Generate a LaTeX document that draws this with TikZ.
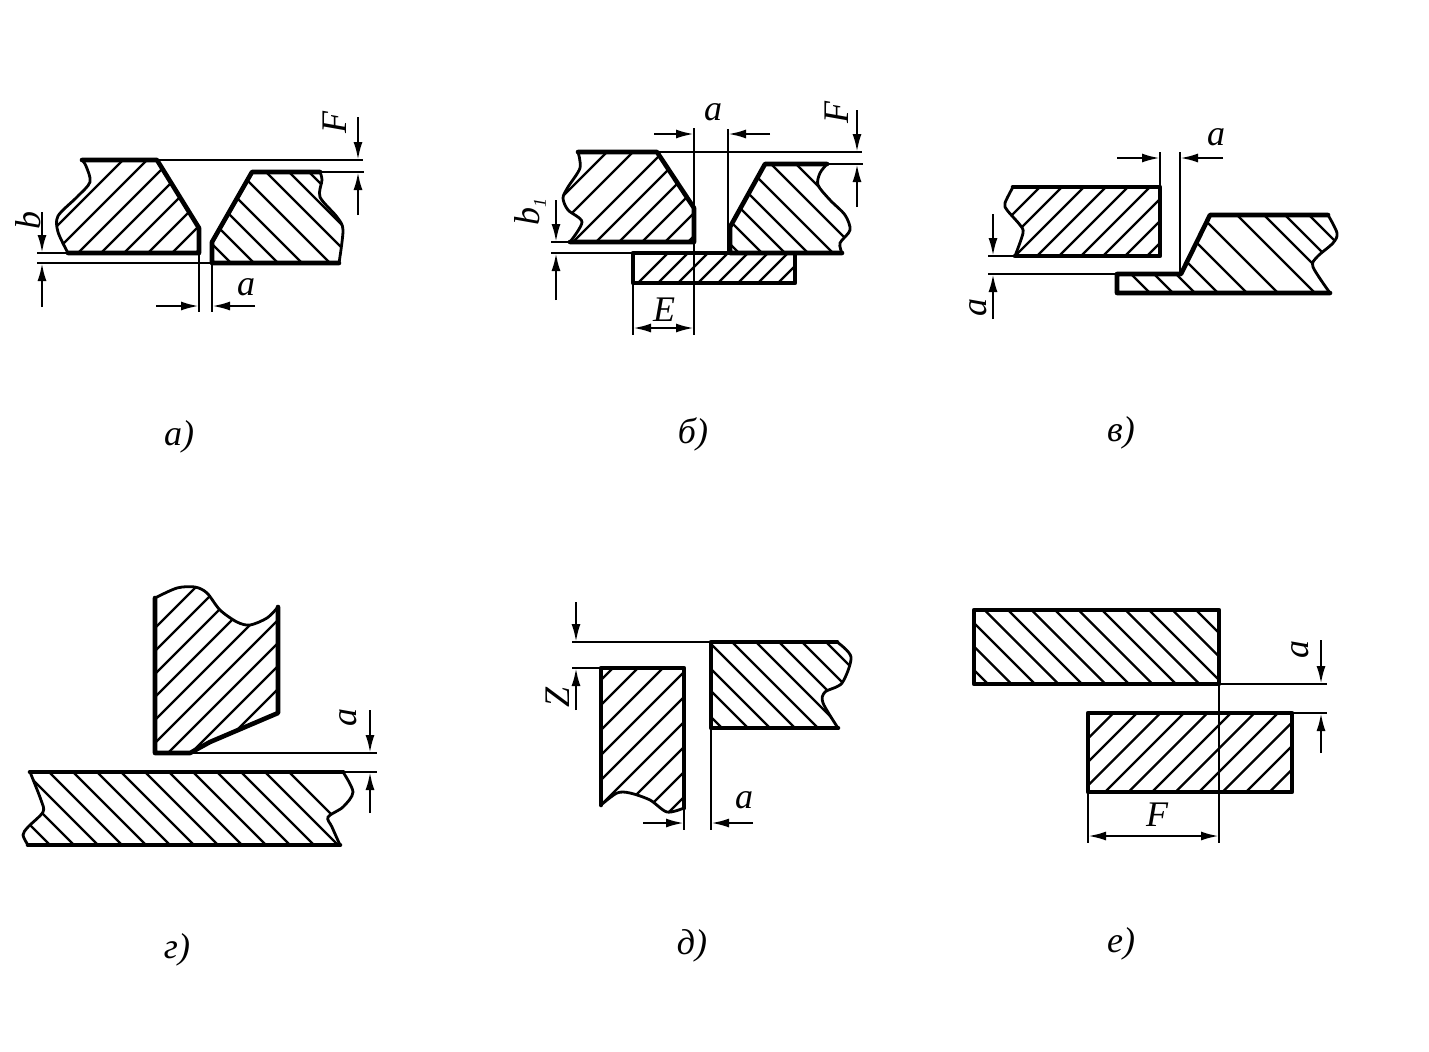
\documentclass[tikz,border=0pt]{standalone}
\usepackage{fontspec}
\setmainfont{Liberation Serif}
\usetikzlibrary{arrows.meta}

\tikzset{
	plateedge/.style={line width=2.3pt,line join=round,line cap=round},
	breakline/.style={line width=1.4pt},
	hatchline/.style={line width=1.2pt},
	extline/.style={line width=1.2pt},
	dimarrow/.style={line width=1.2pt,-{Latex[length=9pt,width=4.5pt]}},
	dimboth/.style={line width=1.2pt,{Latex[length=9pt,width=4.5pt]}-{Latex[length=9pt,width=4.5pt]}},
	letter/.style={font=\fontsize{18}{20}\selectfont\itshape,inner sep=0pt},
	turned/.style={letter,rotate=90}
}

% #1 clip path, #2 +1 rising or -1 falling, #3 base line, #4 where the lines cross it
\newcommand{\hatching}[4]{
	\begin{scope}
		\clip #1;
		\foreach \x in {#4} \draw[hatchline] (\x-300,#3+300*#2)--(\x+300,#3-300*#2);
	\end{scope}
}
% #1 thick edge, #2 points of the break line, then as \hatching
\newcommand{\plate}[5]{
	\hatching{#1 -- plot[smooth] coordinates {#2} -- cycle}{#3}{#4}{#5}
	\draw[plateedge] #1;
	\draw[breakline] plot[smooth] coordinates {#2};
}

\begin{document}
\begin{tikzpicture}[x=0.5pt,y=-0.5pt]
	\useasboundingbox (0,0) rectangle (1429,1051);

	%FIG A
	\plate{(82,160)--(157,160)--(199,228)--(199,253)--(68,253)}{(68,253) (58,232) (58,216) (77,197) (90,182) (86,166) (82,160)}{1}{253}{30,54,78,101,124,148,172,196}
	\plate{(320,172)--(252,172)--(212,242)--(212,263)--(339,263)}{(339,263) (343,230) (337,217) (320,197) (322,180) (320,172)}{-1}{263}{231,254,278,302,330,357,380,400}
	\draw[extline] (157,160)--(363,160);
	\draw[extline] (320,172)--(364,172);
	\draw[extline] (68,253)--(37,253);
	\draw[extline] (212,263)--(37,263);
	\draw[extline] (199,253)--(199,312);
	\draw[extline] (212,263)--(212,312);
	\draw[dimarrow] (156,306)--(199,306);
	\draw[dimarrow] (255,306)--(212,306);
	\draw[dimarrow] (358,117)--(358,160);
	\draw[dimarrow] (358,215)--(358,172);
	\draw[dimarrow] (42,212)--(42,253);
	\draw[dimarrow] (42,307)--(42,263);
	\node[letter] (aA) at (246,287) {a};
	\node[turned] (fA) at (335,122) {F};
	\node[turned] (bA) at (28,220) {b};
	\node[letter] (capA) at (179,437) {а)};

	%FIG B
	\plate{(578,152)--(657,152)--(694,208)--(694,242)--(570,242)}{(570,242) (582,222) (568,210) (563,198) (568,187) (580,168) (578,152)}{1}{242}{517,543,573,596,619,642,665,688}
	\plate{(827,164)--(765,164)--(730,227)--(730,253)--(842,253)}{(842,253) (840,243) (850,230) (845,215) (830,200) (818,185) (820,173) (827,164)}{-1}{253}{739,762,785,808,833,860,885}
	\hatching{(633,253) rectangle (795,283)}{1}{283}{638,658,678,698,718,738,758,778}
	\draw[plateedge] (633,253) rectangle (795,283);
	\draw[extline] (657,152)--(862,152);
	\draw[extline] (827,164)--(863,164);
	\draw[extline] (570,242)--(551,242);
	\draw[extline] (730,253)--(551,253);
	\draw[extline] (694,128)--(694,335);
	\draw[extline] (728,129)--(728,253);
	\draw[extline] (633,283)--(633,335);
	\draw[dimarrow] (654,134)--(694,134);
	\draw[dimarrow] (770,134)--(728,134);
	\draw[dimarrow] (857,110)--(857,152);
	\draw[dimarrow] (857,207)--(857,164);
	\draw[dimarrow] (556,200)--(556,242);
	\draw[dimarrow] (556,300)--(556,253);
	\draw[dimboth] (633,328)--(694,328);
	\node[letter] (aB) at (713,112) {a};
	\node[letter] (eB) at (664,310) {E};
	\node[turned] (fB) at (837,112) {F};
	\node[turned] (bB) at (530,212) {b\raisebox{-0.4ex}{\small 1}};
	\node[letter] (capB) at (693,434) {б)};

	%FIG C
	\plate{(1013,187)--(1160,187)--(1160,256)--(1015,256)}{(1015,256) (1023,233) (1020,225) (1007,210) (1005,203) (1013,187)}{1}{256}{971,993,...,1147}
	\plate{(1328,215)--(1210,215)--(1181,274)--(1117,274)--(1117,293)--(1330,293)}{(1330,293) (1313,267) (1317,257) (1333,243) (1337,233) (1328,215)}{-1}{293}{1150,1173,1195,1218,1247,1278,1315,1342,1363,1387}
	\draw[extline] (1160,187)--(1160,152);
	\draw[extline] (1180,152)--(1180,274);
	\draw[extline] (1015,256)--(988,256);
	\draw[extline] (1117,274)--(988,274);
	\draw[dimarrow] (1117,158)--(1160,158);
	\draw[dimarrow] (1223,158)--(1180,158);
	\draw[dimarrow] (993,214)--(993,256);
	\draw[dimarrow] (993,319)--(993,274);
	\node[letter] (aC) at (1216,137) {a};
	\node[turned] (bC) at (978,307) {a};
	\node[letter] (capC) at (1121,433) {в)};

	%FIG D
	\plate{(278,607)--(278,713)--(210,742)--(190,753)--(155,753)--(155,598)}{(155,598) (177,588) (195,587) (207,593) (220,610) (237,622) (250,625) (267,618) (278,607)}{1}{753}{30,53,...,217}
	\hatching{(30,772)--(343,772) plot[smooth] coordinates {(343,772) (353,792) (343,807) (328,817) (332,827) (340,845)} --(28,845) -- plot[smooth] coordinates {(28,845) (23,835) (28,827) (43,812) (41,800) (30,772)} -- cycle}{-1}{845}{50,74,...,385}
	\draw[plateedge] (30,772)--(343,772);
	\draw[plateedge] (28,845)--(340,845);
	\draw[breakline] plot[smooth] coordinates {(343,772) (353,792) (343,807) (328,817) (332,827) (340,845)};
	\draw[breakline] plot[smooth] coordinates {(28,845) (23,835) (28,827) (43,812) (41,800) (30,772)};
	\draw[extline] (190,753)--(377,753);
	\draw[extline] (343,772)--(377,772);
	\draw[dimarrow] (370,710)--(370,753);
	\draw[dimarrow] (370,813)--(370,772);
	\node[turned] (aD) at (348,717) {a};
	\node[letter] (capD) at (177,950) {г)};

	%FIG E
	\plate{(684,808)--(684,668)--(601,668)--(601,805)}{(601,805) (617,793) (630,793) (650,800) (667,812) (684,808)}{1}{668}{613,638,...,840}
	\plate{(837,642)--(711,642)--(711,728)--(838,728)}{(838,728) (823,703) (825,692) (842,683) (851,657) (837,642)}{-1}{728}{722,748,770,795,818,842,865,888,912}
	\draw[extline] (711,642)--(572,642);
	\draw[extline] (601,668)--(572,668);
	\draw[extline] (684,808)--(684,830);
	\draw[extline] (711,728)--(711,830);
	\draw[dimarrow] (643,823)--(684,823);
	\draw[dimarrow] (753,823)--(711,823);
	\draw[dimarrow] (576,602)--(576,642);
	\draw[dimarrow] (576,710)--(576,668);
	\node[letter] (aE) at (744,800) {a};
	\node[turned] (zE) at (558,697) {Z};
	\node[letter] (capE) at (692,946) {д)};

	%FIG F
	\hatching{(974,610) rectangle (1219,684)}{-1}{684}{988,1011.5,...,1300}
	\draw[plateedge] (974,610) rectangle (1219,684);
	\hatching{(1088,713) rectangle (1292,792)}{1}{792}{1011,1034.5,...,1370}
	\draw[plateedge] (1088,713) rectangle (1292,792);
	\draw[extline] (1219,684)--(1327,684);
	\draw[extline] (1292,713)--(1327,713);
	\draw[extline] (1219,684)--(1219,843);
	\draw[extline] (1088,792)--(1088,843);
	\draw[dimboth] (1088,836)--(1219,836);
	\draw[dimarrow] (1321,640)--(1321,684);
	\draw[dimarrow] (1321,753)--(1321,713);
	\node[letter] (fF) at (1157,815) {F};
	\node[turned] (aF) at (1300,649) {a};
	\node[letter] (capF) at (1121,944) {е)};
\end{tikzpicture}
\end{document}
